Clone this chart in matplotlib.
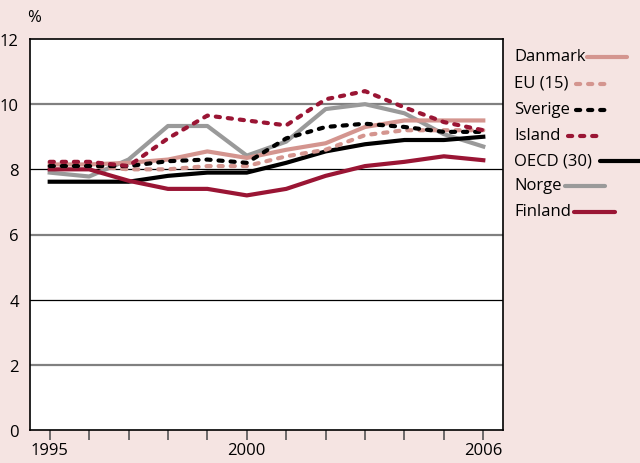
import matplotlib.pyplot as plt
from matplotlib.lines import Line2D

plt.rcParams['font.family'] = ['Open Sans', 'DejaVu Sans']

years = list(range(1995, 2007))
danmark = [8.15, 8.15, 8.2, 8.3, 8.55, 8.35, 8.6, 8.8, 9.3, 9.5, 9.5, 9.5]
eu15 = [8.1, 8.1, 8.0, 8.0, 8.1, 8.1, 8.4, 8.6, 9.05, 9.2, 9.2, 9.2]
sverige = [8.1, 8.1, 8.1, 8.25, 8.3, 8.2, 8.95, 9.3, 9.4, 9.3, 9.15, 9.15]
island = [8.23, 8.23, 8.1, 8.95, 9.65, 9.5, 9.35, 10.15, 10.4, 9.9, 9.45, 9.2]
oecd = [7.62, 7.62, 7.62, 7.8, 7.9, 7.9, 8.2, 8.55, 8.77, 8.9, 8.9, 9.0]
norge = [7.9, 7.78, 8.3, 9.33, 9.33, 8.42, 8.85, 9.85, 10.0, 9.72, 9.08, 8.7]
finland = [8.0, 8.0, 7.65, 7.4, 7.4, 7.2, 7.4, 7.8, 8.1, 8.23, 8.4, 8.28]

pink = '#d4958f'
red = '#9a1534'
grey = '#9a9a9a'
bg = '#f5e4e2'
dash = (0, (1.0, 1.9))

fig = plt.figure(figsize=(6.4, 4.64), dpi=100, facecolor=bg)
ax = fig.add_axes([30 / 640, 33 / 464, 473 / 640, 391 / 464])
ax.set_facecolor('white')

# gridlines (alternating look as in the original)
for v in [2, 6, 10]:
    ax.axhline(v, color='#808080', lw=1.6, zorder=1)
for v in [4, 8]:
    ax.axhline(v, color='black', lw=0.9, zorder=1)

lw = 3
ax.plot(years, norge, color=grey, lw=lw, zorder=3)
ax.plot(years, danmark, color=pink, lw=lw, zorder=3)
ax.plot(years, oecd, color='black', lw=lw, zorder=3)
ax.plot(years, finland, color=red, lw=lw, zorder=3)
ax.plot(years, eu15, color=pink, lw=lw, ls=dash, dash_capstyle='round', zorder=4)
ax.plot(years, sverige, color='black', lw=lw, ls=dash, dash_capstyle='round', zorder=4)
ax.plot(years, island, color=red, lw=lw, ls=dash, dash_capstyle='round', zorder=5)

ax.set_xlim(1994.5, 2006.5)
ax.set_ylim(0, 12)
ax.set_yticks(range(0, 13, 2))
ax.set_xticks(years)
ax.set_xticklabels([str(y) if y in (1995, 2000, 2006) else '' for y in years])
ax.tick_params(axis='x', direction='out', length=7, width=1.2, color='#555555',
               labelsize=12, pad=2)
ax.tick_params(axis='y', length=0, labelsize=12, pad=8)
for s in ax.spines.values():
    s.set_color('black')
    s.set_linewidth(1.2)

fig.text(27 / 640, 1 - 18 / 464, '%', fontsize=12, ha='left', va='center')

# legend: label followed by line sample
legend = [
    ('Danmark', pink, '-', 57, 587, 627),
    ('EU (15)', pink, dash, 84, 576, 606),
    ('Sverige', 'black', dash, 110, 576, 605),
    ('Island', red, dash, 136, 568, 597),
    ('OECD (30)', 'black', '-', 161, 600, 640),
    ('Norge', grey, '-', 186, 565, 605),
    ('Finland', red, '-', 212, 574, 615),
]
for name, col, ls, y, x0, x1 in legend:
    fig.text(514 / 640, 1 - y / 464, name, fontsize=12, ha='left', va='center')
    fig.add_artist(Line2D([x0 / 640, x1 / 640], [1 - (y + 1) / 464, 1 - (y + 1) / 464],
                          color=col, lw=lw, ls=ls, dash_capstyle='round',
                          solid_capstyle='round', transform=fig.transFigure))

fig.savefig('out.png', dpi=100, facecolor=bg)
